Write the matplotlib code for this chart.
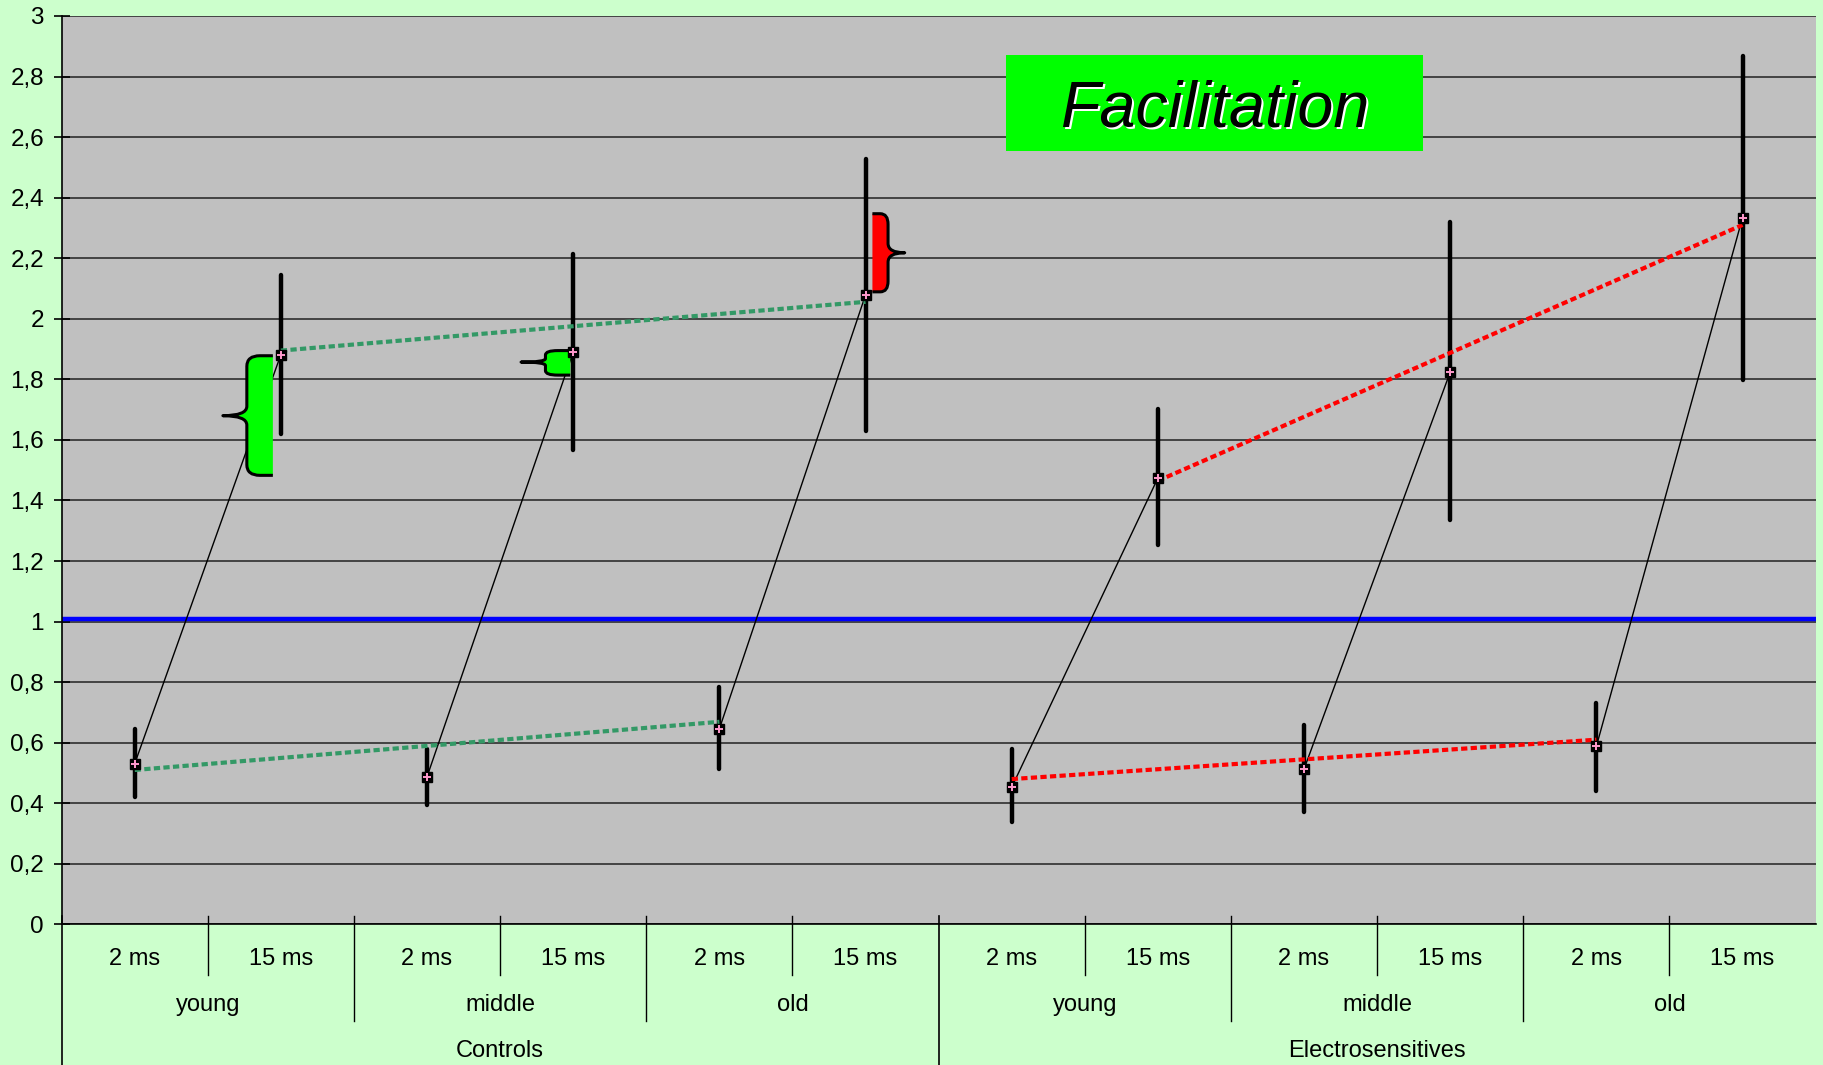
import matplotlib
matplotlib.use('Agg')
import matplotlib.pyplot as plt
import matplotlib.transforms as mtransforms
from matplotlib.path import Path
from matplotlib.patches import PathPatch, Rectangle
import numpy as np

plt.rcParams['font.family'] = ['Liberation Sans', 'DejaVu Sans']

# данные
groups = ['Controls', 'Electrosensitives']
ages = ['young', 'middle', 'old']
delays = ['2 ms', '15 ms']

ctrl_2ms = [0.531, 0.488, 0.646]
ctrl_2ms_lo = [0.42, 0.395, 0.514]
ctrl_2ms_hi = [0.645, 0.579, 0.784]

ctrl_15ms = [1.882, 1.891, 2.079]
ctrl_15ms_lo = [1.618, 1.566, 1.628]
ctrl_15ms_hi = [2.146, 2.215, 2.528]

es_2ms = [0.453, 0.513, 0.588]
es_2ms_lo = [0.337, 0.372, 0.442]
es_2ms_hi = [0.578, 0.657, 0.731]

es_15ms = [1.474, 1.824, 2.334]
es_15ms_lo = [1.252, 1.336, 1.797]
es_15ms_hi = [1.702, 2.320, 2.867]

# концы пунктирных линий тренда
ctrl_2ms_trend = [0.51, 0.669]
ctrl_15ms_trend = [1.895, 2.056]
es_2ms_trend = [0.48, 0.61]
es_15ms_trend = [1.465, 2.31]

threshold = 1.01

# фигурные скобки: край, середина, кончик, низ, верх, кончик по y
braces = [
    (0.945, 0.767, 0.603, 1.483, 1.878, 1.68, '#00FF00'),
    (2.98, 2.81, 2.643, 1.814, 1.895, 1.857, '#00FF00'),
    (5.047, 5.154, 5.268, 2.089, 2.347, 2.218, '#FF0000'),
]

fig = plt.figure(figsize=(18.24, 10.65), dpi=100, facecolor='#CCFFCC')
ax = fig.add_axes([0.0338, 0.132, 0.9616, 0.853])
ax.set_facecolor('#C0C0C0')
ax.set_xlim(-0.5, 11.5)
ax.set_ylim(0, 3)

yt = np.arange(0, 3.01, 0.2)
ax.set_yticks(yt)
ax.set_yticklabels([('%g' % round(v, 1)).replace('.', ',') for v in yt], fontsize=17.5)
ax.tick_params(axis='y', direction='inout', length=11.5, width=1.2, pad=7)
ax.set_xticks([])
ax.grid(axis='y', color='#222222', linewidth=1.1, zorder=0)
ax.set_axisbelow(True)
for s in ['top', 'right']:
    ax.spines[s].set_visible(False)
ax.spines['left'].set_linewidth(1.2)
ax.spines['bottom'].set_linewidth(1.2)

ax.axhline(threshold, color='#0000FF', linewidth=3.2, zorder=2)

series = [
    (0, ctrl_2ms, ctrl_2ms_lo, ctrl_2ms_hi, ctrl_15ms, ctrl_15ms_lo, ctrl_15ms_hi,
     ctrl_2ms_trend, ctrl_15ms_trend, '#339966'),
    (6, es_2ms, es_2ms_lo, es_2ms_hi, es_15ms, es_15ms_lo, es_15ms_hi,
     es_2ms_trend, es_15ms_trend, '#FF0000'),
]

for off, v2, lo2, hi2, v15, lo15, hi15, tr2, tr15, tcol in series:
    x2 = off + 2 * np.arange(3)
    x15 = x2 + 1
    # тонкие линии 2 ms -> 15 ms
    for i in range(3):
        ax.plot([x2[i], x15[i]], [v2[i], v15[i]], color='black', linewidth=1.0, zorder=3)
    # усы
    ax.vlines(x2, lo2, hi2, colors='black', linewidth=3.2, capstyle='round', zorder=4)
    ax.vlines(x15, lo15, hi15, colors='black', linewidth=3.2, capstyle='round', zorder=4)
    # пунктирные тренды
    ax.plot([x2[0], x2[-1]], tr2, color=tcol, linewidth=3, linestyle=(0, (1.5, 0.8)),
            dash_capstyle='butt', zorder=5)
    ax.plot([x15[0], x15[-1]], tr15, color=tcol, linewidth=3, linestyle=(0, (1.5, 0.8)),
            dash_capstyle='butt', zorder=5)
    # маркеры
    xs = np.concatenate([x2, x15])
    ys = np.concatenate([v2, v15])
    ax.plot(xs, ys, linestyle='none', marker='s', markersize=7.5, color='black', zorder=6)
    ax.plot(xs, ys, linestyle='none', marker='+', markersize=5.5, color='#FF99CC',
            markeredgewidth=1.4, zorder=7)


def brace_path(xe, xm, xt, yb, ytop, ytip, ry, rt):
    rx = 0.5 * (xe - xm)
    verts = [
        (xe, ytop), (xm + rx, ytop), (xm, ytop), (xm, ytop - ry),
        (xm, ytip + rt), (xm, ytip), (xt, ytip),
        (xm, ytip), (xm, ytip - rt),
        (xm, yb + ry), (xm, yb), (xm + rx, yb), (xe, yb),
    ]
    codes = [Path.MOVETO, Path.LINETO, Path.CURVE3, Path.CURVE3,
             Path.LINETO, Path.CURVE3, Path.CURVE3,
             Path.CURVE3, Path.CURVE3,
             Path.LINETO, Path.CURVE3, Path.CURVE3, Path.LINETO]
    return verts, codes


for xe, xm, xt, yb, ytop, ytip, col in braces:
    h = ytop - yb
    ry = min(0.035, h * 0.18)
    rt = min(0.031, h * 0.14)
    verts, codes = brace_path(xe, xm, xt, yb, ytop, ytip, ry, rt)
    fill = PathPatch(Path(verts + [verts[0]], codes + [Path.LINETO]),
                     facecolor=col, edgecolor='none', zorder=3.5)
    ax.add_patch(fill)
    edge = PathPatch(Path(verts, codes), facecolor='none', edgecolor='black',
                     linewidth=2.2, capstyle='butt', joinstyle='round', zorder=3.6)
    ax.add_patch(edge)

# надпись Facilitation
box = Rectangle((0.5515, 0.8585), 0.2285, 0.0899, transform=fig.transFigure,
                facecolor='#00FF00', edgecolor='none', zorder=8)
ax.add_patch(box)
shadow = mtransforms.offset_copy(fig.transFigure, fig=fig, x=2, y=-2, units='dots')
ax.text(0.666, 0.897, 'Facilitation', transform=shadow, fontsize=46.5, style='italic',
        color='white', ha='center', va='center', zorder=9)
ax.text(0.666, 0.897, 'Facilitation', transform=fig.transFigure, fontsize=46.5,
        style='italic', color='black', ha='center', va='center', zorder=10)

# многоуровневые подписи оси X
tr = mtransforms.blended_transform_factory(ax.transData, fig.transFigure)
for i in range(12):
    ax.text(i, 0.0993, delays[i % 2], transform=tr, ha='center', va='center', fontsize=17)
for j in range(6):
    ax.text(2 * j + 0.5, 0.0568, ages[j % 3], transform=tr, ha='center', va='center', fontsize=17)
for k in range(2):
    ax.text(6 * k + 2.5, 0.013, groups[k], transform=tr, ha='center', va='center', fontsize=17)

top_y = 0.1395
for xsep in [0.5, 2.5, 4.5, 6.5, 8.5, 10.5]:
    ax.plot([xsep, xsep], [top_y, 0.0849], transform=tr, color='black', linewidth=1.0, clip_on=False)
for xsep in [1.5, 3.5, 7.5, 9.5]:
    ax.plot([xsep, xsep], [top_y, 0.0415], transform=tr, color='black', linewidth=1.0, clip_on=False)
for xsep in [-0.5, 5.5]:
    ax.plot([xsep, xsep], [top_y, 0.0], transform=tr, color='black', linewidth=1.2, clip_on=False)

plt.savefig('out.png', dpi=100, facecolor=fig.get_facecolor())
